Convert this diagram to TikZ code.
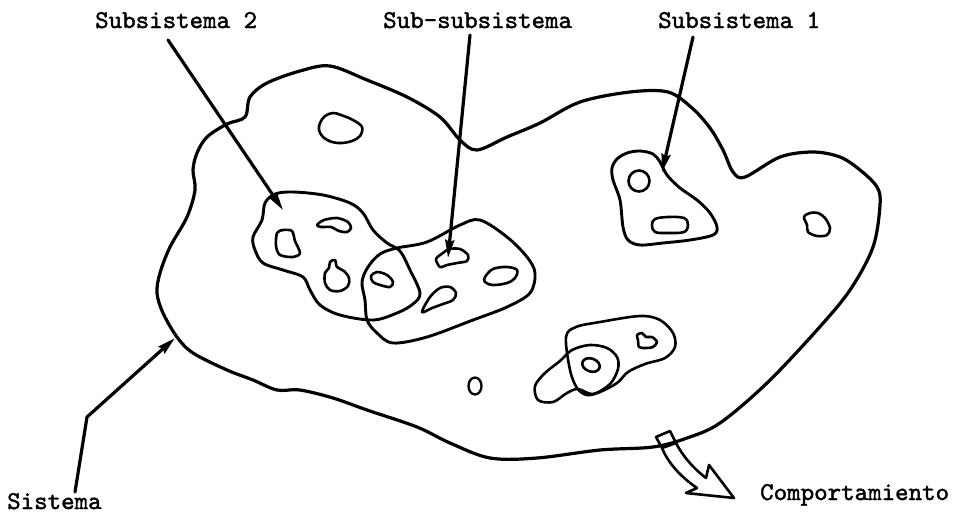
\documentclass[tikz,border=0pt]{standalone}
\usepackage{fontspec}
\newfontfamily\tw{lmmono10-regular.otf}[FakeBold=1.6]
\usetikzlibrary{arrows.meta}
\begin{document}
\begin{tikzpicture}[x=1pt,y=-1pt,
  outl/.style={line width=3.2pt,line join=round,line cap=round},
  isl/.style={line width=2.6pt,line join=round},
  reg/.style={line width=2.9pt,line join=round},
  ptr/.style={line width=3.2pt,line cap=round,-{Stealth[length=18pt,width=9pt,inset=2pt]}},
  lbl/.style={font=\tw\fontsize{25.7}{27}\selectfont,inner sep=0pt,anchor=base west}]
\useasboundingbox (0,0) rectangle (960,515);

% main system outline
\draw[outl] plot[smooth cycle,tension=0.55] coordinates {
 (245,117) (250,97) (267,83) (300,71) (330,66) (367,80) (407,97) (440,117) (460,140) (477,150)
 (507,137) (540,123) (580,102) (630,92) (668,92) (692,108) (710,128) (723,150) (733,172) (745,177)
 (780,157) (813,152) (840,157) (860,170) (877,187) (880,205) (873,247) (850,290) (817,330) (767,383)
 (720,423) (687,438) (653,447) (600,450) (537,458) (490,458) (450,443) (417,427) (367,410) (333,398)
 (300,390) (277,390) (253,380) (227,370) (193,353) (177,337) (163,313) (157,293) (160,273) (170,247)
 (187,217) (195,190) (193,170) (197,153) (207,137) (227,124)};

% Subsistema 2 region
\draw[reg] plot[smooth cycle,tension=0.55] coordinates {
 (265,203) (275,194) (293,192) (323,195) (350,203) (363,213) (373,230) (387,243) (400,251)
 (410,270) (420,293) (413,304) (397,313) (373,320) (340,315) (320,305) (310,290) (303,277)
 (283,270) (263,263) (255,250) (253,237) (262,220)};

% Sub-subsistema region
\draw[reg] plot[smooth cycle,tension=0.55] coordinates {
 (397,248) (380,254) (368,267) (362,282) (365,300) (367,320) (377,333) (393,343) (427,337)
 (473,320) (507,307) (530,293) (535,273) (527,257) (507,237) (480,220) (460,225) (427,242)};

% Subsistema 1 region
\draw[reg] plot[smooth cycle,tension=0.55] coordinates {
 (660,162) (667,175) (680,188) (697,200) (710,213) (717,227) (713,235) (690,240) (663,243)
 (640,245) (628,240) (623,227) (620,200) (613,180) (612,168) (617,159) (627,153) (640,151) (653,154)};

% bottom group
\draw[isl] plot[smooth cycle,tension=0.55] coordinates {
 (566,337) (576,327) (600,322) (640,316) (660,320) (673,333) (675,347) (665,358) (645,364)
 (628,372) (617,383) (600,392) (587,395) (577,388) (570,370)};
\draw[isl] plot[smooth cycle,tension=0.55] coordinates {
 (553,402) (567,393) (578,389) (593,394) (610,384) (618,369) (617,357) (607,348) (590,345)
 (572,350) (560,361) (545,373) (535,386) (538,400)};

% islands
\draw[isl] plot[smooth cycle,tension=0.6] coordinates {
 (320,123) (325,116) (333,113) (341,115) (353,120) (362,127) (360,136) (352,141) (342,143) (332,142) (323,137) (319,130)};
\draw[isl] plot[smooth cycle,tension=0.5] coordinates {
 (277,233) (283,230) (292,231) (295,241) (300,253) (293,257) (280,255) (276,246)};
\draw[isl] plot[smooth cycle,tension=0.5] coordinates {
 (317,225) (324,220) (337,218) (348,222) (351,228) (347,232) (339,231) (331,227) (321,227)};
\draw[isl] plot[smooth cycle,tension=0.55] coordinates {
 (330,262) (335,260) (337,267) (344,271) (349,278) (348,286) (340,291) (330,290) (325,283) (325,273) (329,268)};
\draw[isl] plot[smooth cycle,tension=0.55] coordinates {
 (371,276) (377,272) (387,275) (393,282) (390,287) (380,285) (373,282)};
\draw[isl] plot[smooth cycle,tension=0.5] coordinates {
 (436,259) (443,253) (449,249) (460,249) (468,255) (467,261) (457,263) (447,265) (440,267)};
\draw[isl] plot[smooth cycle,tension=0.6] coordinates {
 (485,277) (493,269) (507,267) (517,270) (515,278) (507,283) (493,285) (485,282)};
\draw[isl] plot[smooth cycle,tension=0.55] coordinates {
 (422,312) (430,297) (440,288) (450,287) (456,293) (453,300) (443,304) (432,308)};
\draw[isl] (639,181) circle[radius=10.5];
\draw[isl] plot[smooth cycle,tension=0.6] coordinates {
 (655,219) (668,217) (684,218) (688,225) (684,232) (668,233) (655,232) (652,225)};
\draw[isl] plot[smooth cycle,tension=0.55] coordinates {
 (804,217) (810,213) (818,213) (825,218) (830,228) (827,235) (817,236) (808,232) (807,225)};
\draw[isl,line width=2.3pt] (475,386) ellipse[x radius=6.5,y radius=8.5];
\draw[isl] plot[smooth cycle,tension=0.5] coordinates {
 (637,335) (642,333) (646,337) (652,337) (657,342) (653,347) (645,348) (639,347) (638,340)};
\draw[isl,rotate around={-20:(591,365)}] (591,365) ellipse[x radius=9,y radius=6.5];

% labels
\node[lbl] (s2) at (95,28) {Subsistema 2};
\node[lbl] (ss) at (383,28) {Sub-subsistema};
\node[lbl] (s1) at (658,28) {Subsistema 1};
\node[lbl] (sis) at (7,509) {Sistema};
\node[lbl] (comp) at (760,500) {Comportamiento};

% pointer arrows
\coordinate (s2a) at (168,40);   \coordinate (s2b) at (283,210);
\coordinate (ssa) at (470,35);   \coordinate (ssb) at (448,258);
\coordinate (s1a) at (693,37);   \coordinate (s1b) at (662,172);
\coordinate (sia) at (75,492);   \coordinate (sim) at (87,417);  \coordinate (sib) at (175,338);
\draw[ptr] (s2a) -- (s2b);
\draw[ptr] (ssa) -- (ssb);
\draw[ptr] (s1a) -- (s1b);
\draw[ptr,line join=round] (sia) -- (sim) -- (sib);

% behaviour arrow (hollow)
\coordinate (q1) at (656,437); \coordinate (q2) at (670,431);
\coordinate (q3) at (676,443); \coordinate (q4) at (662,448);
\draw[line width=2.6pt,line join=round] (q1) -- (q2) -- (q3) -- (q4) -- cycle;
\draw[line width=2.6pt,line join=round] (q4) .. controls (668,463) and (681,477) .. (697,488)
  -- (686,493) -- (734,498) -- (709,465) -- (706,478)
  .. controls (693,468) and (682,455) .. (q3);
\end{tikzpicture}
\end{document}
